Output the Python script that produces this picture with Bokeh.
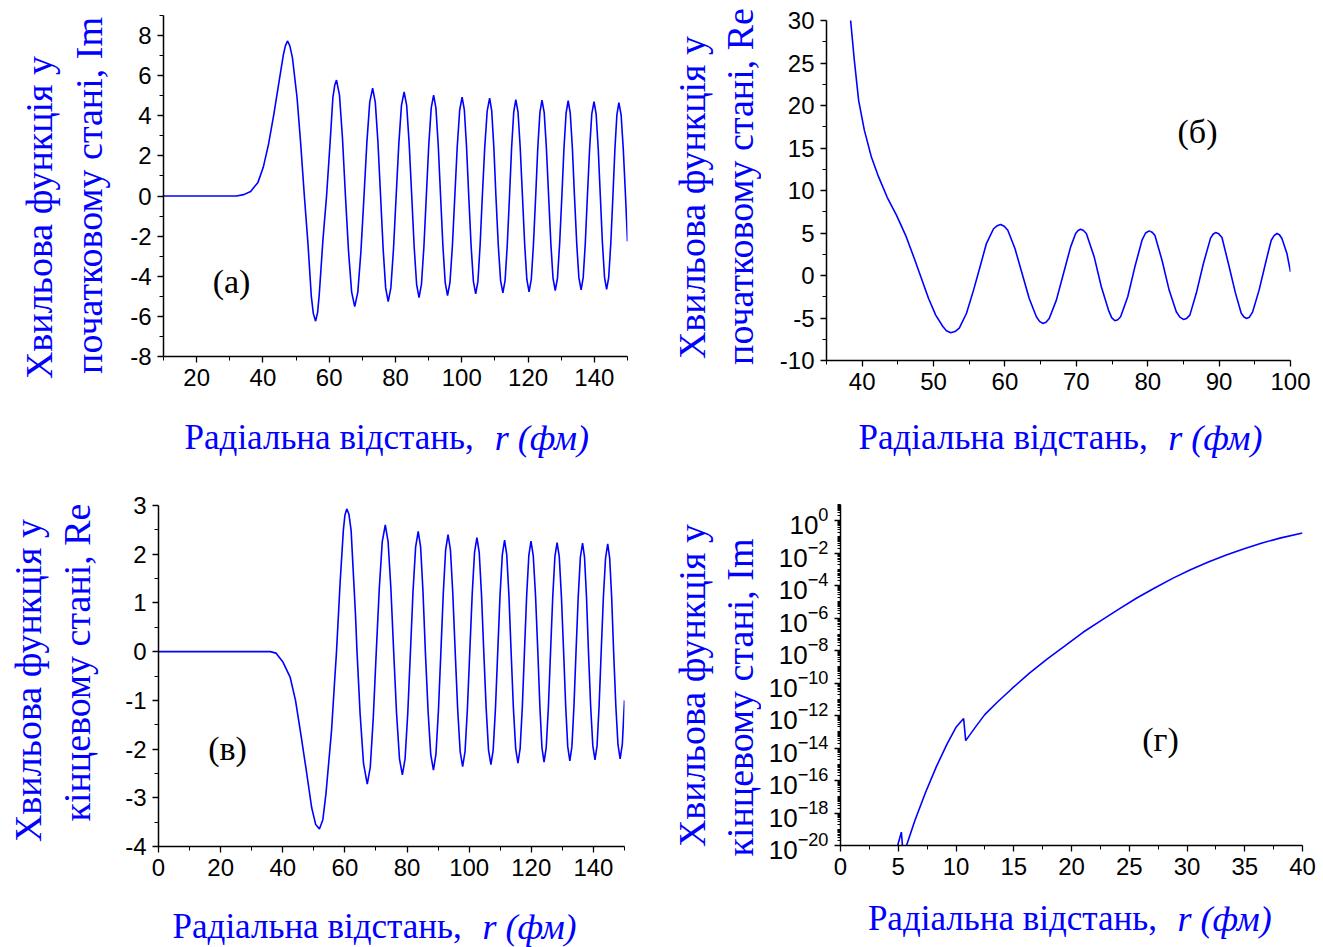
import math
from bokeh.plotting import figure
from bokeh.models import (Range1d, FixedTicker, Label, LogTickFormatter,
                          CustomJSTickFormatter, ColumnDataSource)
from bokeh.core.properties import value
from bokeh.layouts import column, row
from bokeh.embed import file_html
from bokeh.resources import INLINE

BLUE = "#0000ff"
SERIF = "Liberation Serif"
SANS = "Liberation Sans"

# ---------------- data ----------------
# (a) initial state, imaginary part
a_r = [10, 20, 30, 32.0, 34.2, 36.3, 38.5, 40.1, 41.7, 43.3,
       44.9, 46.2, 46.8, 47.4, 48.1, 48.9, 50.3, 51.4, 52.5, 53.6,
       54.6, 55.2, 55.9, 56.5, 57.0, 58.1, 59.2, 60.3, 61.1, 61.7, 62.2,
       63.1, 64.0, 64.9, 65.83, 66.77, 67.7, 68.63, 69.57, 70.5, 71.37, 72.23, 73.1,
       73.9, 74.7, 75.5, 76.27, 77.03, 77.8, 78.6, 79.4, 80.2, 81.0, 81.8, 82.6,
       83.37, 84.13, 84.9, 85.63, 86.37, 87.1, 87.83, 88.57, 89.3, 90.03, 90.77, 91.5,
       92.2, 92.9, 93.6, 94.3, 95.0, 95.7, 96.43, 97.17, 97.9, 98.63, 99.37, 100.1,
       100.77, 101.43, 102.1, 102.8, 103.5, 104.2, 104.87, 105.53, 106.2, 106.93, 107.67, 108.4,
       109.03, 109.67, 110.3, 111.0, 111.7, 112.4, 113.07, 113.73, 114.4, 115.03, 115.67, 116.3,
       116.97, 117.63, 118.3, 118.97, 119.63, 120.3, 120.97, 121.63, 122.3, 122.93, 123.57, 124.2,
       124.87, 125.53, 126.2, 126.87, 127.53, 128.2, 128.87, 129.53, 130.2, 130.83, 131.47, 132.1,
       132.73, 133.37, 134.0, 134.67, 135.33, 136.0, 136.63, 137.27, 137.9, 138.57, 139.23, 139.9,
       140.53, 141.17, 141.8, 142.43, 143.07, 143.7, 144.33, 144.97, 145.6, 146.2, 146.8, 147.4,
       148.07, 148.73, 149.4, 150]
a_psi = [0, 0, 0, 0.0, 0.07, 0.23, 0.68, 1.43, 2.59, 4.08,
         5.74, 7.07, 7.5, 7.73, 7.5, 6.9, 4.9, 2.6, 0, -2.4,
         -5.0, -5.85, -6.24, -5.8, -4.9, -2.2, 0, 2.75, 4.9, 5.55, 5.78,
         5.03, 2.89, 0, -2.76, -4.79, -5.51, -4.79, -2.76, 0, 2.69, 4.68, 5.38,
         4.68, 2.69, 0, -2.63, -4.58, -5.26, -4.58, -2.63, 0, 2.60, 4.52, 5.19,
         4.52, 2.60, 0, -2.53, -4.40, -5.06, -4.40, -2.53, 0, 2.52, 4.38, 5.03,
         4.38, 2.52, 0, -2.48, -4.32, -4.96, -4.32, -2.48, 0, 2.47, 4.29, 4.93,
         4.29, 2.47, 0, -2.44, -4.25, -4.88, -4.25, -2.44, 0, 2.44, 4.25, 4.88,
         4.25, 2.44, 0, -2.42, -4.20, -4.83, -4.20, -2.42, 0, 2.41, 4.18, 4.81,
         4.18, 2.41, 0, -2.39, -4.16, -4.78, -4.16, -2.39, 0, 2.39, 4.16, 4.78,
         4.16, 2.39, 0, -2.36, -4.10, -4.71, -4.10, -2.36, 0, 2.38, 4.13, 4.75,
         4.13, 2.38, 0, -2.34, -4.07, -4.68, -4.07, -2.34, 0, 2.36, 4.10, 4.71,
         4.10, 2.36, 0, -2.33, -4.05, -4.65, -4.05, -2.33, 0, 2.33, 4.05, 4.66,
         4.05, 2.33, 0, -2.26]

# (б) initial state, real part
b_r = [38.37, 38.9, 39.5, 40.3, 41.3, 42.3, 43.5, 44.8, 46.1, 47.3,
       48.3, 49.3, 50.3, 51.3, 51.8, 52.4, 53.0, 53.6, 54.6, 55.6,
       56.5, 57.4, 58.4, 58.9, 59.4, 59.9, 60.4, 61.4, 62.4, 63.4,
       64.4, 64.85, 65.3, 65.75, 66.2, 67.2, 68.2, 69.2, 69.9, 70.25,
       70.6, 71.0, 71.4, 72.5, 73.5, 74.5, 74.95, 75.4, 75.8, 76.2,
       77.2, 78.2, 79.2, 79.7, 80.2, 80.6, 81.0, 82.0, 83.0, 84.0,
       84.5, 85.0, 85.45, 85.9, 86.8, 87.8, 88.8, 89.15, 89.5, 89.95,
       90.4, 91.3, 92.3, 93.1, 93.45, 93.8, 94.25, 94.7, 95.6, 96.6,
       97.3, 97.7, 98.1, 98.45, 98.8, 99.5, 100.0]
b_psi = [30.1, 25.3, 20.6, 17.1, 13.9, 11.6, 9.2, 7.1, 4.7, 2.0,
         -0.35, -2.7, -4.66, -6.0, -6.5, -6.74, -6.6, -6.2, -4.47, -1.72,
         1.0, 3.76, 5.5, 5.85, 5.99, 5.8, 5.33, 3.17, 0.24, -2.7,
         -4.86, -5.4, -5.64, -5.5, -5.05, -2.9, 0.24, 3.37, 4.94, 5.3,
         5.44, 5.3, 4.94, 2.19, -1.33, -4.07, -4.95, -5.33, -5.2, -4.86,
         -2.5, 1.02, 4.15, 5.0, 5.25, 5.1, 4.74, 1.8, -1.72, -4.27,
         -4.9, -5.17, -5.05, -4.66, -2.1, 1.41, 4.4, 4.85, 5.05, 4.9,
         4.47, 1.41, -2.1, -4.45, -4.85, -5.05, -4.9, -4.27, -1.72, 1.8,
         4.15, 4.7, 4.94, 4.8, 4.35, 2.58, 0.43]

# (в) final state, real part
c_r = [0, 20, 36.0, 37.8, 40.1, 42.4, 44.1, 45.8, 47.6, 49.3,
       50.6, 51.8, 52.9, 53.9, 55.7, 56.6, 57.3, 58.5, 59.5, 60.0,
       60.6, 61.3, 62.0, 63.4, 63.9, 64.9, 66.0, 67.2,
       68.17, 69.13, 70.1, 71.07, 72.03, 73.0, 73.9, 74.8, 75.7, 76.63, 77.57, 78.5,
       79.37, 80.23, 81.1, 81.93, 82.77, 83.6, 84.37, 85.13, 85.9, 86.77, 87.63, 88.5,
       89.3, 90.1, 90.9, 91.67, 92.43, 93.2, 93.97, 94.73, 95.5, 96.3, 97.1, 97.9,
       98.67, 99.43, 100.2, 100.97, 101.73, 102.5, 103.23, 103.97, 104.7, 105.47, 106.23, 107.0,
       107.73, 108.47, 109.2, 109.93, 110.67, 111.4, 112.1, 112.8, 113.5, 114.23, 114.97, 115.7,
       116.4, 117.1, 117.8, 118.5, 119.2, 119.9, 120.63, 121.37, 122.1, 122.77, 123.43, 124.1,
       124.8, 125.5, 126.2, 126.9, 127.6, 128.3, 129.0, 129.7, 130.4, 131.07, 131.73, 132.4,
       133.07, 133.73, 134.4, 135.1, 135.8, 136.5, 137.13, 137.77, 138.4, 139.1, 139.8, 140.5,
       141.17, 141.83, 142.5, 143.2, 143.9, 144.6, 145.23, 145.87, 146.5, 147.2, 147.9, 148.6,
       149.3, 150]
c_psi = [0, 0, 0, -0.03, -0.22, -0.53, -1.0, -1.69, -2.45, -3.2,
         -3.55, -3.64, -3.45, -2.92, -1.62, -0.7, 0, 1.46, 2.49, 2.8,
         2.93, 2.82, 2.49, 0.77, 0, -1.28, -2.3, -2.72,
         -2.37, -1.36, 0, 1.30, 2.26, 2.60, 2.26, 1.30, 0, -1.27, -2.20, -2.53,
         -2.20, -1.27, 0, 1.24, 2.15, 2.47, 2.15, 1.24, 0, -1.22, -2.11, -2.43,
         -2.11, -1.22, 0, 1.20, 2.09, 2.40, 2.09, 1.20, 0, -1.18, -2.05, -2.36,
         -2.05, -1.18, 0, 1.17, 2.04, 2.34, 2.04, 1.17, 0, -1.16, -2.02, -2.32,
         -2.02, -1.16, 0, 1.15, 1.99, 2.29, 1.99, 1.15, 0, -1.15, -1.99, -2.29,
         -1.99, -1.15, 0, 1.14, 1.97, 2.27, 1.97, 1.14, 0, -1.14, -1.97, -2.27,
         -1.97, -1.14, 0, 1.12, 1.95, 2.24, 1.95, 1.12, 0, -1.12, -1.95, -2.24,
         -1.95, -1.12, 0, 1.12, 1.94, 2.23, 1.94, 1.12, 0, -1.11, -1.93, -2.22,
         -1.93, -1.11, 0, 1.11, 1.92, 2.21, 1.92, 1.11, 0, -1.10, -1.91, -2.20,
         -1.9, -1.0]

# (г) final state, imaginary part (decimal exponents)
d_r = [4.55, 5.27, 5.42, 5.48, 6.44, 7.37, 8.30, 9.23, 10.0, 10.66, 10.84,
       11.71, 12.49, 13.57, 14.81, 16.36, 17.91, 19.46, 21.0, 22.55, 24.1,
       25.65, 27.2, 28.75, 30.3, 31.85, 33.4, 34.95, 36.5, 38.04, 40.0]
d_log10 = [-21.0, -19.18, -20.5, -20.5, -18.46, -16.72, -15.14, -13.74, -12.72, -12.18, -13.54,
           -12.68, -11.94, -11.18, -10.36, -9.39, -8.51, -7.69, -6.87, -6.15, -5.44,
           -4.76, -4.14, -3.55, -3.02, -2.54, -2.11, -1.72, -1.37, -1.07, -0.76]
d_psi = [10.0 ** e for e in d_log10]

# tick positions
a_xticks, a_xminor = [20, 40, 60, 80, 100, 120, 140], [10, 30, 50, 70, 90, 110, 130, 150]
a_yticks, a_yminor = [-8, -6, -4, -2, 0, 2, 4, 6, 8], [-7, -5, -3, -1, 1, 3, 5, 7, 9]
b_xticks, b_xminor = [40, 50, 60, 70, 80, 90, 100], [35, 45, 55, 65, 75, 85, 95]
b_yticks, b_yminor = [-10, -5, 0, 5, 10, 15, 20, 25, 30], [-7.5, -2.5, 2.5, 7.5, 12.5, 17.5, 22.5, 27.5]
c_xticks, c_xminor = [0, 20, 40, 60, 80, 100, 120, 140], [10, 30, 50, 70, 90, 110, 130, 150]
c_yticks, c_yminor = [-4, -3, -2, -1, 0, 1, 2, 3], [-3.5, -2.5, -1.5, -0.5, 0.5, 1.5, 2.5]
d_xticks, d_xminor = [0, 5, 10, 15, 20, 25, 30, 35, 40], [2.5, 7.5, 12.5, 17.5, 22.5, 27.5, 32.5, 37.5]
d_yticks = [10.0 ** e for e in range(-20, 1, 2)]
d_yminor = sorted([k * 10.0 ** e for e in range(-20, 1) for k in range(1, 10)
                   if not (k == 1 and e % 2 == 0)] + [10.0])

Y_LINE1 = "Хвильова функція у"
X_TITLE = "Радіальна відстань,"
X_TITLE_IT = "r (фм)"


def make_panel(w, h, xr, yr, bl, bt, fw, fh, log=False):
    p = figure(width=w, height=h, frame_width=fw, frame_height=fh,
               min_border_left=bl, min_border_top=bt,
               min_border_right=w - bl - fw, min_border_bottom=h - bt - fh,
               x_range=Range1d(*xr), y_range=Range1d(*yr),
               y_axis_type="log" if log else "linear",
               output_backend="svg", toolbar_location=None)
    p.outline_line_color = None
    p.grid.visible = False
    for ax in (p.xaxis[0], p.yaxis[0]):
        ax.axis_line_color = "black"
        ax.axis_line_width = 1.5
        ax.major_tick_line_color = "black"
        ax.minor_tick_line_color = "black"
        ax.major_tick_line_width = 1.3
        ax.minor_tick_line_width = 1.0
        ax.major_tick_in = 0
        ax.major_tick_out = 6
        ax.minor_tick_in = 0
        ax.minor_tick_out = 4
        ax.major_label_text_font = SANS
        ax.major_label_text_font_size = "24px"
        ax.major_label_text_color = "black"
        ax.major_label_standoff = 6
    p.xaxis.formatter = CustomJSTickFormatter(code="return String(tick)")
    if not log:
        p.yaxis.formatter = CustomJSTickFormatter(code="return String(tick)")
    return p


def text_canvas(w, h):
    # blank drawing area whose data units are pixels counted from the top-left
    f = figure(width=w, height=h, x_range=Range1d(0, w), y_range=Range1d(h, 0),
               min_border=0, x_axis_location=None, y_axis_location=None,
               output_backend="svg", toolbar_location=None)
    f.grid.visible = False
    f.outline_line_color = None
    return f


def y_title(w, h, line2, xs, ys):
    f = text_canvas(w, h)
    f.text(x=xs, y=ys, text=[Y_LINE1, line2], angle=math.pi / 2,
           text_font=value(SERIF), text_font_size=value("38px"),
           text_color=BLUE, text_align="center", text_baseline="middle")
    return f


def x_title(w, h, xr, ym):
    f = text_canvas(w, h)
    f.text(x=[xr], y=[ym], text=[X_TITLE], text_font=value(SERIF),
           text_font_size=value("35px"), text_color=BLUE,
           text_align="right", text_baseline="middle")
    f.text(x=[xr + 25], y=[ym], text=[X_TITLE_IT], text_font=value(SERIF),
           text_font_size=value("36px"), text_font_style="italic",
           text_color=BLUE, text_align="left", text_baseline="middle")
    return f


def add_tag(p, txt, x, y):
    p.add_layout(Label(x=x, y=y, x_units="screen", y_units="screen", text=txt,
                       text_align="center", text_baseline="middle", text_font=SERIF,
                       text_font_size="34px", text_color="black"))


def draw(p, r, psi):
    p.line("r", "psi", source=ColumnDataSource(dict(r=r, psi=psi)),
           line_color=BLUE, line_width=1.6)


# (a)
pa = make_panel(549, 400, (10, 150), (-8, 9), 51, 15, 464, 341)
pa.xaxis.ticker = FixedTicker(ticks=a_xticks, minor_ticks=a_xminor)
pa.yaxis.ticker = FixedTicker(ticks=a_yticks, minor_ticks=a_yminor)
draw(pa, a_r, a_psi)
add_tag(pa, "(a)", 68, 75)
quad_a = row(y_title(112, 473, "початковому стані, Im", [38, 88], [217, 195]),
             column(pa, x_title(549, 73, 367, 37)))

# (б)
pb = make_panel(562, 404, (35, 100), (-10, 30), 65, 20, 464, 340)
pb.xaxis.ticker = FixedTicker(ticks=b_xticks, minor_ticks=b_xminor)
pb.yaxis.ticker = FixedTicker(ticks=b_yticks, minor_ticks=b_yminor)
draw(pb, b_r, b_psi)
add_tag(pb, "(б)", 371, 229)
quad_b = row(y_title(100, 473, "початковому стані, Re", [30, 78], [197, 186]),
             column(pb, x_title(562, 69, 389, 33)))

# (в)
pc = make_panel(561, 413, (0, 150), (-4, 3), 58, 32, 466, 341)
pc.xaxis.ticker = FixedTicker(ticks=c_xticks, minor_ticks=c_xminor)
pc.yaxis.ticker = FixedTicker(ticks=c_yticks, minor_ticks=c_yminor)
draw(pc, c_r, c_psi)
add_tag(pc, "(в)", 69, 98)
quad_c = row(y_title(100, 474, "кінцевому стані, Re", [27, 76], [207, 189]),
             column(pc, x_title(561, 61, 365, 40)))

# (г)
pd_ = make_panel(562, 416, (0, 40), (1e-20, 10), 79, 31, 462, 341, log=True)
pd_.xaxis.ticker = FixedTicker(ticks=d_xticks, minor_ticks=d_xminor)
pd_.yaxis.ticker = FixedTicker(ticks=d_yticks, minor_ticks=d_yminor)
pd_.yaxis.formatter = LogTickFormatter()
pd_.yaxis.major_label_text_font_size = "26px"
pd_.yaxis.minor_tick_out = 3
draw(pd_, d_r, d_psi)
add_tag(pd_, "(г)", 320, 106)
quad_d = row(y_title(100, 474, "кінцевому стані, Im", [30, 78], [212, 224]),
             column(pd_, x_title(562, 58, 385, 29)))

layout = column(row(quad_a, quad_b), row(quad_c, quad_d))
open("out.html", "w").write(file_html(layout, INLINE))
